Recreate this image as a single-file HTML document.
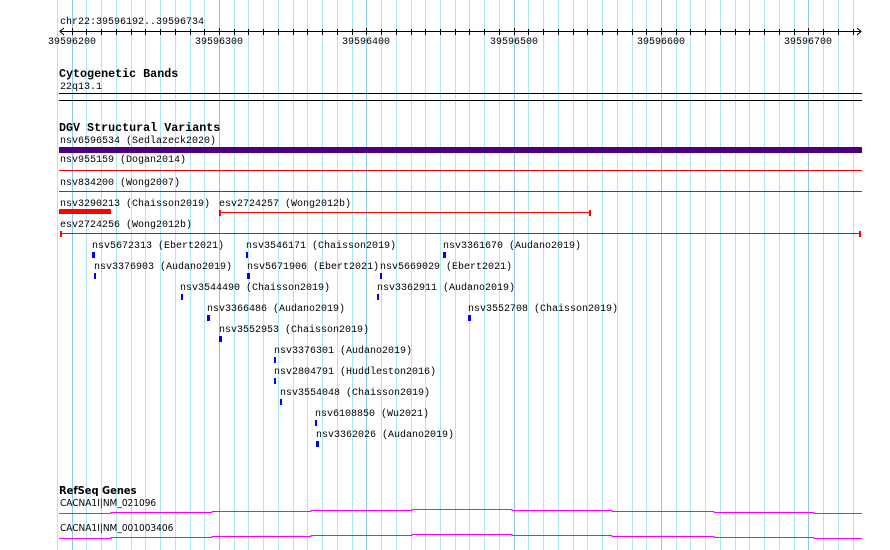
<!DOCTYPE html>
<html><head><meta charset="utf-8"><style>
html,body{margin:0;padding:0;background:#fff;width:890px;height:550px;overflow:hidden}
svg{display:block}
text{font-family:"Liberation Mono",monospace;font-size:10px;fill:#000}
.b{font-family:"Liberation Mono",monospace;font-weight:bold;font-size:11.7px}
.n{font-family:"Liberation Sans Narrow","DejaVu Sans Condensed","Liberation Sans",sans-serif;font-size:10px}
</style></head><body>
<svg width="890" height="550" viewBox="0 0 890 550" xmlns="http://www.w3.org/2000/svg">
<g id="grid" shape-rendering="crispEdges"></g>
<g shape-rendering="crispEdges">
<line x1="60" y1="31.5" x2="861" y2="31.5" stroke="#000"/>
<polyline points="64,28 60,31.5 64,35" fill="none" stroke="#000"/>
<polyline points="857,28 861,31.5 857,35" fill="none" stroke="#000"/>
<g id="ticks" stroke="#000"></g>
<line x1="59" y1="93.5" x2="862" y2="93.5" stroke="#000"/>
<line x1="59" y1="100.5" x2="862" y2="100.5" stroke="#000"/>
<rect x="59" y="147" width="803" height="6" fill="#4b0082"/>
<line x1="59" y1="170.5" x2="862" y2="170.5" stroke="#f00"/>
<line x1="59" y1="191.5" x2="862" y2="191.5" stroke="#f00"/>
<rect x="59" y="209" width="52" height="5" fill="#f00"/>
<line x1="219" y1="212.5" x2="591" y2="212.5" stroke="#f00"/>
<rect x="219" y="210" width="2" height="6" fill="#f00"/>
<rect x="589" y="210" width="2" height="6" fill="#f00"/>
<line x1="60" y1="233.5" x2="861" y2="233.5" stroke="#f00"/>
<rect x="60" y="231" width="2" height="6" fill="#f00"/>
<rect x="859" y="231" width="2" height="6" fill="#f00"/>
<g fill="#00f">
<rect x="92" y="252" width="3" height="6"/>
<rect x="246" y="252" width="2" height="6"/>
<rect x="443" y="252" width="3" height="6"/>
<rect x="94" y="273" width="2" height="6"/>
<rect x="247" y="273" width="3" height="6"/>
<rect x="380" y="273" width="2" height="6"/>
<rect x="181" y="294" width="2" height="6"/>
<rect x="377" y="294" width="2" height="6"/>
<rect x="207" y="315" width="3" height="6"/>
<rect x="468" y="315" width="3" height="6"/>
<rect x="219" y="336" width="3" height="6"/>
<rect x="274" y="357" width="2" height="6"/>
<rect x="274" y="378" width="2" height="6"/>
<rect x="280" y="399" width="2" height="6"/>
<rect x="315" y="420" width="2" height="6"/>
<rect x="316" y="441" width="3" height="6"/>
</g>
<polyline fill="none" stroke="#f0f" points="59,513.5 111,513.5 111,512.5 212,512.5 212,511.5 311,511.5 311,510.5 412,510.5 412,509.5 512,509.5 512,510.5 612,510.5 612,511.5 714,511.5 714,512.5 814,512.5 814,513.5 862,513.5"/>
<polyline fill="none" stroke="#f0f" points="59,538.5 111,538.5 111,537.5 212,537.5 212,536.5 311,536.5 311,535.5 412,535.5 412,534.5 512,534.5 512,535.5 612,535.5 612,536.5 714,536.5 714,537.5 814,537.5 814,538.5 862,538.5"/>
</g>
<text x="60" y="24">chr22:39596192..39596734</text>
<text x="72" y="44" text-anchor="middle">39596200</text>
<text x="219" y="44" text-anchor="middle">39596300</text>
<text x="366" y="44" text-anchor="middle">39596400</text>
<text x="514" y="44" text-anchor="middle">39596500</text>
<text x="661" y="44" text-anchor="middle">39596600</text>
<text x="808" y="44" text-anchor="middle">39596700</text>
<text class="b" x="59" y="77">Cytogenetic Bands</text>
<text x="60" y="89">22q13.1</text>
<text class="b" x="59" y="131">DGV Structural Variants</text>
<text x="60" y="143">nsv6596534 (Sedlazeck2020)</text>
<text x="60" y="162">nsv955159 (Dogan2014)</text>
<text x="60" y="185">nsv834200 (Wong2007)</text>
<text x="60" y="206">nsv3290213 (Chaisson2019)</text>
<text x="219" y="206">esv2724257 (Wong2012b)</text>
<text x="60" y="227">esv2724256 (Wong2012b)</text>
<text x="92" y="248">nsv5672313 (Ebert2021)</text>
<text x="246" y="248">nsv3546171 (Chaisson2019)</text>
<text x="443" y="248">nsv3361670 (Audano2019)</text>
<text x="94" y="269">nsv3376903 (Audano2019)</text>
<text x="247" y="269">nsv5671906 (Ebert2021)</text>
<text x="380" y="269">nsv5669029 (Ebert2021)</text>
<text x="180" y="290">nsv3544490 (Chaisson2019)</text>
<text x="377" y="290">nsv3362911 (Audano2019)</text>
<text x="207" y="311">nsv3366486 (Audano2019)</text>
<text x="468" y="311">nsv3552708 (Chaisson2019)</text>
<text x="219" y="332">nsv3552953 (Chaisson2019)</text>
<text x="274" y="353">nsv3376301 (Audano2019)</text>
<text x="274" y="374">nsv2804791 (Huddleston2016)</text>
<text x="280" y="395">nsv3554048 (Chaisson2019)</text>
<text x="315" y="416">nsv6108850 (Wu2021)</text>
<text x="316" y="437">nsv3362026 (Audano2019)</text>
<text class="n" x="59" y="494" style="font-weight:bold;font-size:11px">RefSeq Genes</text>
<text class="n" x="60" y="506">CACNA1I|NM_021096</text>
<text class="n" x="60" y="531">CACNA1I|NM_001003406</text>
<script>
(function(){
var ns="http://www.w3.org/2000/svg",g=document.getElementById("grid"),t=document.getElementById("ticks");
for(var bp=190;bp<=730;bp+=10){
 var x=Math.round(219+1.4733*(bp-300))+0.5;
 var l=document.createElementNS(ns,"line");
 l.setAttribute("x1",x);l.setAttribute("x2",x);l.setAttribute("y1",0);l.setAttribute("y2",550);
 l.setAttribute("stroke",bp%100==0?"#8cc8ec":"#ade8f0");
 g.appendChild(l);
 if(bp>=200){var k=document.createElementNS(ns,"line");
 k.setAttribute("x1",x);k.setAttribute("x2",x);k.setAttribute("y1",bp%100==0?28:29);k.setAttribute("y2",35);
 t.appendChild(k);}
}
})();
</script>
</svg>
</body></html>
